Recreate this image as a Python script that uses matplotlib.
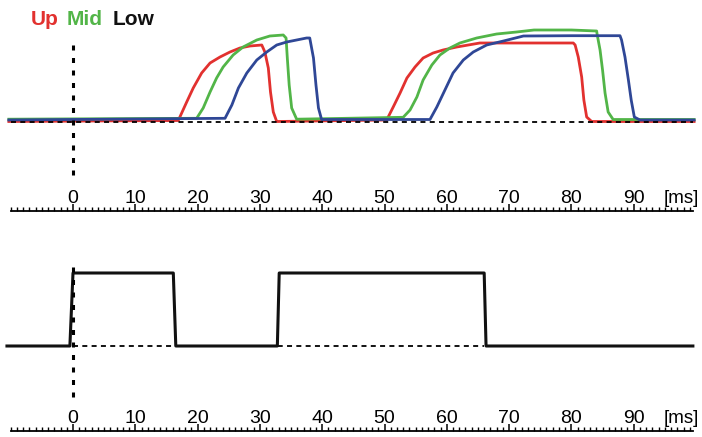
import matplotlib.pyplot as plt
from matplotlib.ticker import FixedLocator

plt.rcParams['font.family'] = ['Liberation Sans', 'DejaVu Sans']
plt.rcParams['lines.scale_dashes'] = False

# время, мс / амплитуда (условные единицы над базовой линией)
up_t = [-10.3, 16.9, 18.25, 19.3, 20.65, 22.0, 23.6, 25.2, 26.8, 28.4, 30.3, 30.8,
        31.35, 31.7, 32.15, 32.7, 50.35, 51.4, 52.5, 53.6, 54.9, 56.2, 57.8, 59.4,
        61.6, 65.3, 69.1, 80.3, 80.6, 81.1, 81.65, 82.0, 82.45, 83.25, 99.7]
up_h = [-1.5, -0.5, 18, 32, 47, 57, 63, 68, 72, 74, 75, 68,
        52, 28, 8, -1.5, 0, 13, 27, 42, 53, 62, 67, 70,
        73, 77, 77, 77, 75, 63, 43, 20, 3, -1.5, -1.5]

mid_t = [-10.3, 19.85, 20.9, 22.0, 23.05, 24.1, 25.7, 27.3, 29.5, 31.6, 33.75, 34.2,
         34.4, 34.7, 35.1, 35.9, 53.0, 54.1, 55.2, 56.2, 57.6, 58.9, 60.5, 62.1,
         64.8, 68.0, 71.2, 74.0, 80.0, 84.05, 84.15, 84.6, 85.0, 85.4, 85.9, 86.7, 99.7]
mid_h = [0.8, 1.7, 12, 28, 42, 53, 65, 73, 80, 84, 85, 82,
         62, 35, 12, 0.8, 2.7, 10, 23, 40, 55, 65, 72, 77,
         82, 86, 88, 90, 90, 89, 85, 70, 50, 27, 8, 0.5, 0.5]

low_t = [-10.3, 24.4, 25.5, 26.55, 27.9, 29.5, 31.1, 32.7, 34.3, 35.9, 37.5, 38.0,
         38.6, 39.0, 39.4, 39.9, 57.3, 58.4, 59.7, 61.0, 62.65, 64.25, 66.4, 69.1,
         72.3, 80.0, 87.8, 88.05, 88.6, 89.15, 89.6, 90.1, 91.0, 99.7]
low_h = [0, 1.7, 15, 32, 47, 60, 68, 75, 78, 80, 82, 82,
         62, 35, 12, 0.5, 0.5, 13, 30, 47, 60, 68, 75, 79,
         84, 84.3, 84.3, 80, 63, 40, 20, 3, 0, 0]

# стимул (нижняя панель)
stim_t = [-10.6, -0.5, 0.0, 16.1, 16.5, 32.8, 33.1, 66.0, 66.3, 99.5]
stim_h = [0, 0, 73, 73, 0, 0, 73, 73, 0, 0]

tick_vals = [0, 10, 20, 30, 40, 50, 60, 70, 80, 90]
tick_labels = [str(v) for v in tick_vals]
minor_vals = list(range(-10, 100))

px = 1 / 437
fig = plt.figure(figsize=(7.02, 4.37), dpi=100)
ax1 = fig.add_axes([0, 1 - 211 * px, 1, 211 * px])
ax2 = fig.add_axes([0, 6 * px, 1, 206 * px])


def setup_ruler(ax):
    ax.set_xlim(-73 / 6.23, (702 - 73) / 6.23)
    for s in ['top', 'left', 'right']:
        ax.spines[s].set_visible(False)
    ax.spines['bottom'].set_bounds(-10, 99.5)
    ax.spines['bottom'].set_linewidth(1.3)
    ax.set_yticks([])
    ax.set_xticks(tick_vals)
    ax.set_xticklabels(tick_labels)
    ax.xaxis.set_minor_locator(FixedLocator(minor_vals))
    ax.tick_params(axis='x', which='major', direction='in', length=5, width=1.1,
                   pad=-15, labelsize=14)
    ax.tick_params(axis='x', which='minor', direction='in', length=2.6, width=1.0)
    ax.annotate('[ms]', xy=(664 / 702, 0), xycoords='axes fraction',
                xytext=(0, 15), textcoords='offset points',
                fontsize=13.5, ha='left', va='top')


# верхняя панель
setup_ruler(ax1)
ax1.set_ylim(-91, 120)
ax1.plot(up_t, up_h, color='#e2312f', lw=2.0, solid_joinstyle='round')
ax1.plot(mid_t, mid_h, color='#52b548', lw=2.0, solid_joinstyle='round')
ax1.plot(low_t, low_h, color='#2f4796', lw=2.0, solid_joinstyle='round')
ax1.plot([-10, 99.5], [-2, -2], color='black', lw=1.3, dashes=(3.6, 3.1))
ax1.plot([0, 0], [75, -57], color='black', lw=2.2, dashes=(3.6, 5.4))

# нижняя панель
setup_ruler(ax2)
ax2.set_ylim(-85, 121)
ax2.plot([0, 66], [0, 0], color='black', lw=1.3, dashes=(3.6, 3.1))
ax2.plot(stim_t, stim_h, color='#111111', lw=2.2, solid_joinstyle='round')
ax2.plot([0, 0], [79, -52], color='black', lw=2.2, dashes=(3.6, 5.4))

# подписи каналов
fig.text(31 / 702, 1 - 25 * px, 'Up', color='#e2312f', fontsize=15, fontweight='bold')
fig.text(67 / 702, 1 - 25 * px, 'Mid', color='#52b548', fontsize=15, fontweight='bold')
fig.text(113 / 702, 1 - 25 * px, 'Low', color='#111111', fontsize=15, fontweight='bold')

fig.savefig('out.png', dpi=100)
